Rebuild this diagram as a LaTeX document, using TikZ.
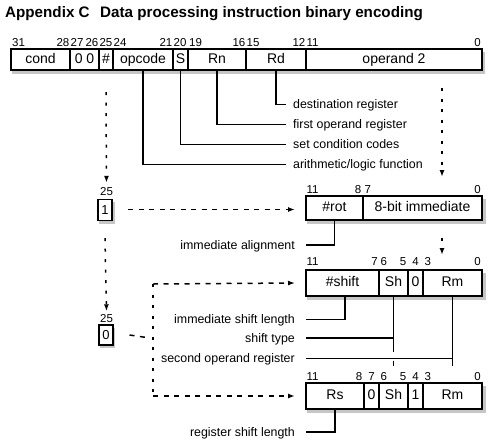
\documentclass[tikz,border=0pt]{standalone}
\usepackage{fontspec}
\setmainfont{Liberation Sans}
\usetikzlibrary{arrows.meta}
\begin{document}
\begin{tikzpicture}[x=1pt,y=-1pt,
  fld/.style={draw, line width=1.1pt, fill=white, inner sep=0pt, outer sep=0pt,
    anchor=north west, text height=9.5pt, text depth=2.5pt,
    font=\fontsize{14}{14}\selectfont},
  bitn/.style={inner sep=0pt, font=\fontsize{11.5}{11.5}\selectfont},
  lbl/.style={inner sep=0pt, font=\fontsize{12.4}{12.4}\selectfont},
  shd/.style={fill=gray!45},
  lead/.style={line width=1.2pt},
  dsh/.style={line width=1.5pt, dash pattern=on 5pt off 5.5pt},
  vdsh/.style={line width=1.5pt, dash pattern=on 3pt off 7.5pt},
  arr/.style={-{Latex[length=7pt,width=5pt]}}
]
\useasboundingbox (0,0) rectangle (494,445);

% title
\node[inner sep=0pt, anchor=base west, font=\bfseries\fontsize{15.2}{15.2}\selectfont] (tA) at (5,17.5) {Appendix C};
\node[inner sep=0pt, anchor=base west, font=\bfseries\fontsize{15.2}{15.2}\selectfont] (tB) at (100,17.5) {Data processing instruction binary encoding};

% shadows
\fill[shd] (12,52) rectangle (485,74);
\fill[shd] (307,199) rectangle (486,224);
\fill[shd] (307,273) rectangle (486,300);
\fill[shd] (307,386) rectangle (486,413);
\fill[shd] (99,202) rectangle (115,224);
\fill[shd] (100,328) rectangle (115,348);

% top register
\node[fld, minimum width=59pt, minimum height=21pt] (cond) at (11,49) {cond};
\node[fld, minimum width=29pt, minimum height=21pt] (zz) at (70,49) {0 0};
\node[fld, minimum width=14pt, minimum height=21pt] (hash) at (99,49) {\#};
\node[fld, minimum width=60pt, minimum height=21pt] (opc) at (113,49) {opcode};
\node[fld, minimum width=15pt, minimum height=21pt] (sbit) at (173,49) {S};
\node[fld, minimum width=58pt, minimum height=21pt] (rn) at (188,49) {Rn};
\node[fld, minimum width=60pt, minimum height=21pt] (rd) at (246,49) {Rd};
\node[fld, minimum width=176pt, minimum height=21pt] (op2) at (306,49) {operand 2};

% top bit numbers
\node[bitn, anchor=base west] (b31) at (12,46.5) {31};
\node[bitn, anchor=base east] (b28) at (69.5,46.5) {28};
\node[bitn, anchor=base west] (b27) at (70.5,46.5) {27};
\node[bitn, anchor=base east] (b26) at (98.5,46.5) {26};
\node[bitn, anchor=base west] (b25) at (99.3,46.5) {25};
\node[bitn, anchor=base west] (b24) at (113.5,46.5) {24};
\node[bitn, anchor=base east] (b21) at (172.5,46.5) {21};
\node[bitn, anchor=base west] (b20) at (173.5,46.5) {20};
\node[bitn, anchor=base west] (b19) at (189,46.5) {19};
\node[bitn, anchor=base east] (b16) at (245.5,46.5) {16};
\node[bitn, anchor=base west] (b15) at (246.5,46.5) {15};
\node[bitn, anchor=base east] (b12) at (305.5,46.5) {12};
\node[bitn, anchor=base west] (b11) at (306.5,46.5) {11};
\node[bitn, anchor=base east] (b0) at (481,46.5) {0};

% field descriptions
\node[lbl, anchor=base west] (ldest) at (293,108) {destination register};
\node[lbl, anchor=base west] (lfirst) at (293,128) {first operand register};
\node[lbl, anchor=base west] (lscc) at (293,148) {set condition codes};
\node[lbl, anchor=base west] (lalu) at (293,168) {arithmetic/logic function};
\draw[lead] (rd.south) |- ([xshift=-7pt]ldest.west |- 0,104.5);
\draw[lead] (rn.south) |- ([xshift=-7pt]lfirst.west |- 0,124.5);
\draw[lead] (sbit.south) |- ([xshift=-7pt]lscc.west |- 0,144.5);
\draw[lead] (opc.south) |- ([xshift=-7pt]lalu.west |- 0,164.5);

% operand 2 paths
\coordinate (ra1) at (442,88);
\coordinate (ra2) at (442,177);
\coordinate (ra3) at (442,238);
\coordinate (ra4) at (442,255);
\draw[vdsh, arr] (ra1) -- (ra2);
\draw[vdsh, arr] (ra3) -- (ra4);

% bit 25 selectors
\node[bitn, anchor=base] (s25a) at (106.5,195) {25};
\node[draw, line width=1.1pt, fill=white, inner sep=0pt, minimum width=14pt, minimum height=21pt,
  font=\fontsize{13}{13}\selectfont] (one) at (105,210) {1};
\node[bitn, anchor=base] (s25b) at (106.5,322.5) {25};
\node[draw, line width=1.1pt, fill=white, inner sep=0pt, minimum width=14pt, minimum height=20pt,
  font=\fontsize{13}{13}\selectfont] (zero) at (106,335) {0};
\draw[vdsh, arr] ([yshift=-22pt]hash.south) -- ([yshift=4pt]s25a.north);
\draw[vdsh, arr] ([yshift=-17pt]one.south) -- ([yshift=3pt]s25b.north);

% immediate operand
\node[fld, minimum width=57pt, minimum height=24pt] (rot) at (306,196) {\#rot};
\node[fld, minimum width=119pt, minimum height=24pt] (imm) at (363,196) {8-bit immediate};
\node[bitn, anchor=base west] (r11) at (306.5,193.3) {11};
\node[bitn, anchor=base east] (r8) at (361.5,193.3) {8};
\node[bitn, anchor=base west] (r7) at (364.5,193.3) {7};
\node[bitn, anchor=base east] (r0) at (481,193.3) {0};
\coordinate (da1) at (128,209.5);
\draw[dsh, arr] (da1) -- ([xshift=-11pt]rot.west |- da1);

\node[lbl, anchor=base east] (lalign) at (295,249) {immediate alignment};
\draw[lead] (rot.south) |- ([xshift=11pt]lalign.east |- 0,245);

% immediate shift form
\node[fld, minimum width=73pt, minimum height=26pt] (shamt) at (306,270) {\#shift};
\node[fld, minimum width=29pt, minimum height=26pt] (shA) at (379,270) {Sh};
\node[fld, minimum width=15pt, minimum height=26pt] (zA) at (408,270) {0};
\node[fld, minimum width=59pt, minimum height=26pt] (rmA) at (423,270) {Rm};
\node[bitn, anchor=base west] (h11) at (306.5,265) {11};
\node[bitn, anchor=base east] (h7) at (378,265) {7};
\node[bitn, anchor=base west] (h6) at (380.5,265) {6};
\node[bitn, anchor=base east] (h5) at (406.5,265) {5};
\node[bitn, anchor=base] (h4) at (415.5,265) {4};
\node[bitn, anchor=base west] (h3) at (424.5,265) {3};
\node[bitn, anchor=base east] (h0) at (481,265) {0};

% register shift form
\node[fld, minimum width=58pt, minimum height=26pt] (rs) at (306,383) {Rs};
\node[fld, minimum width=15pt, minimum height=26pt] (zB) at (364,383) {0};
\node[fld, minimum width=29pt, minimum height=26pt] (shB) at (379,383) {Sh};
\node[fld, minimum width=15pt, minimum height=26pt] (oB) at (408,383) {1};
\node[fld, minimum width=59pt, minimum height=26pt] (rmB) at (423,383) {Rm};
\node[bitn, anchor=base west] (g11) at (306.5,380.5) {11};
\node[bitn, anchor=base east] (g8) at (362.5,380.5) {8};
\node[bitn, anchor=base] (g7) at (371.5,380.5) {7};
\node[bitn, anchor=base west] (g6) at (380.5,380.5) {6};
\node[bitn, anchor=base east] (g5) at (406.5,380.5) {5};
\node[bitn, anchor=base] (g4) at (415.5,380.5) {4};
\node[bitn, anchor=base west] (g3) at (424.5,380.5) {3};
\node[bitn, anchor=base east] (g0) at (481,380.5) {0};

% register operand dashed paths
\coordinate (jv) at (153,284);
\coordinate (jb) at (153,396);
\draw[dsh] ([xshift=16pt]zero.east) -- (150,338);
\draw[vdsh] (jv) -- (jb);
\draw[dsh, arr] (jv) -- ([xshift=-11pt]shamt.west);
\draw[dsh, arr] (jb) -- ([xshift=-11pt]rs.west);

% labels for shift forms
\node[lbl, anchor=base east] (lisl) at (295,323.5) {immediate shift length};
\node[lbl, anchor=base east] (lst) at (295,342) {shift type};
\node[lbl, anchor=base east] (lsor) at (295,362.5) {second operand register};
\node[lbl, anchor=base east] (lrsl) at (295,436) {register shift length};
\draw[lead] ([xshift=2.5pt]shamt.south) |- ([xshift=11pt]lisl.east |- 0,319.5);
\draw[lead] (shA.south) -- (shA.south |- 0,351.5);
\draw[lead] ([xshift=11pt]lst.east |- 0,338) -- (shA.south |- 0,338);
\draw[lead] (shA.south |- 0,360.5) -- (shA.south |- 0,365.5);
\draw[lead] (rmA.south) -- (rmA.south |- 0,366);
\draw[lead] ([xshift=11pt]lsor.east |- 0,358.5) -- (rmA.south |- 0,358.5);
\draw[lead] (rs.south) |- ([xshift=11pt]lrsl.east |- 0,432);
\end{tikzpicture}
\end{document}
